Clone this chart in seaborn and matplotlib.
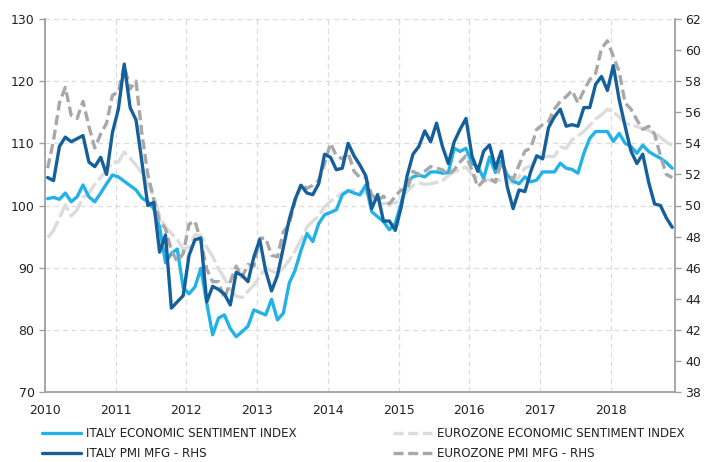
import numpy as np
import pandas as pd
import matplotlib
matplotlib.use("Agg")
import matplotlib.pyplot as plt
from matplotlib.lines import Line2D
import seaborn as sns

# ---- data (monthly, Jan 2010 - Nov 2018) ----
months = pd.date_range("2010-01-01", "2018-11-01", freq="MS")

italy_esi = [
    101.1, 101.3, 101.0, 102.0, 100.6, 101.4, 103.3, 101.4, 100.6, 102.0, 103.5, 104.9,
    104.6, 103.9, 103.2, 102.5, 101.2, 100.6, 99.5, 96.5, 90.8, 92.3, 93.0, 86.8,
    85.8, 86.9, 89.9, 84.3, 79.2, 81.9, 82.4, 80.2, 78.9, 79.7, 80.6, 83.2,
    82.8, 82.4, 84.9, 81.6, 82.7, 87.5, 89.6, 92.8, 95.5, 94.2, 97.1, 98.5,
    98.9, 99.3, 101.7, 102.4, 102.0, 101.7, 103.3, 99.0, 98.2, 97.4, 96.1, 97.1,
    100.4, 103.8, 104.6, 104.9, 104.6, 105.4, 105.4, 105.2, 105.3, 109.2, 108.7, 109.2,
    106.8, 106.2, 104.4, 107.8, 105.3, 107.1, 104.9, 103.9, 103.5, 104.6, 103.8, 104.1,
    105.4, 105.4, 105.4, 106.8, 106.0, 105.8, 105.2, 108.4, 110.8, 111.9, 111.9, 111.9,
    110.3, 111.6, 110.0, 109.5, 108.4, 109.7, 108.7, 108.1, 107.6, 106.9, 106.0,
]

italy_pmi = [
    51.8, 51.6, 53.8, 54.4, 54.1, 54.3, 54.5, 52.8, 52.5, 53.1, 52.0, 54.7,
    56.2, 59.1, 56.3, 55.5, 52.8, 50.0, 50.2, 47.0, 48.1, 43.4, 43.8, 44.2,
    46.8, 47.8, 47.9, 43.8, 44.8, 44.6, 44.3, 43.6, 45.7, 45.5, 45.1, 46.7,
    47.8, 45.8, 44.5, 45.5, 47.3, 49.1, 50.4, 51.3, 50.8, 50.7, 51.4, 53.3,
    53.1, 52.3, 52.4, 54.0, 53.2, 52.6, 51.9, 49.8, 50.7, 49.0, 49.0, 48.4,
    49.9, 51.9, 53.3, 53.8, 54.8, 54.1, 55.3, 53.8, 52.7, 54.1, 54.9, 55.6,
    53.2, 52.2, 53.5, 53.9, 52.4, 53.5, 51.2, 49.8, 51.0, 50.9, 52.2, 53.2,
    53.0, 55.0, 55.7, 56.2, 55.1, 55.2, 55.1, 56.3, 56.3, 57.8, 58.3, 57.4,
    59.0, 56.8, 55.1, 53.5, 52.7, 53.3, 51.5, 50.1, 50.0, 49.2, 48.6,
]

ez_esi = [
    94.8, 96.0, 98.0, 100.1, 98.3, 99.3, 101.3, 102.0, 103.4, 104.5, 105.7, 107.0,
    107.0, 108.6, 107.6, 106.5, 105.2, 103.5, 101.5, 98.3, 96.5, 95.5, 94.5, 93.0,
    93.3, 95.3, 95.2, 93.3, 91.8, 89.8, 88.3, 86.5, 85.4, 85.2, 86.2, 87.2,
    88.6, 90.0, 89.5, 89.0, 90.0, 91.2, 92.7, 94.5, 96.5, 97.5, 98.3, 99.8,
    100.7, 101.3, 102.0, 102.3, 102.5, 102.2, 102.1, 101.0, 100.5, 100.3, 100.4, 100.4,
    101.0, 102.3, 103.2, 103.6, 103.4, 103.5, 103.7, 104.0, 104.8, 105.4, 105.8, 106.2,
    105.0, 104.3, 104.1, 104.1, 104.2, 104.0, 104.0, 103.6, 104.6, 106.0, 106.4, 107.6,
    107.8, 107.9, 107.9, 109.4, 109.2, 110.6, 111.2, 111.9, 112.9, 113.9, 114.6, 115.5,
    115.0, 114.3, 113.2, 113.0, 112.7, 112.4, 112.1, 111.6, 111.0, 110.2, 109.7,
]

ez_pmi = [
    52.4, 54.2, 56.6, 57.6, 55.8, 55.6, 56.7, 55.1, 53.7, 54.6, 55.3, 57.1,
    57.3, 59.0, 57.5, 58.0, 54.6, 52.0, 50.4, 49.0, 48.5, 47.1, 46.4, 46.9,
    48.8, 49.0, 47.7, 45.9, 45.1, 45.1, 44.0, 45.1, 46.1, 45.4, 46.2, 46.1,
    47.9, 47.9, 46.8, 46.7, 48.3, 48.8, 50.3, 51.4, 51.1, 51.3, 51.6, 52.7,
    54.0, 53.2, 53.0, 53.4, 52.2, 51.8, 51.8, 50.7, 50.3, 50.6, 50.1, 50.6,
    51.0, 51.0, 52.2, 52.0, 52.2, 52.5, 52.4, 52.3, 52.0, 52.3, 52.8, 53.2,
    52.3, 51.2, 51.6, 51.7, 51.5, 52.8, 52.0, 51.7, 52.6, 53.5, 53.7, 54.9,
    55.2, 55.4, 56.2, 56.7, 57.0, 57.4, 56.6, 57.4, 58.1, 58.5, 60.1, 60.6,
    59.6, 58.6, 56.6, 56.2, 55.5, 54.9, 55.1, 54.6, 53.2, 52.0, 51.8,
]

labels = [
    "ITALY ECONOMIC SENTIMENT INDEX",
    "ITALY PMI MFG - RHS",
    "EUROZONE ECONOMIC SENTIMENT INDEX",
    "EUROZONE PMI MFG - RHS",
]
year_ticks = list(range(2010, 2019))
left_ticks = list(range(70, 131, 10))
right_ticks = list(range(38, 63, 2))

# ---- frame ----
t = months.year + (months.month - 1 + 0.45) / 12.0
df = pd.DataFrame({"t": t, "it_esi": italy_esi, "it_pmi": italy_pmi,
                   "ez_esi": ez_esi, "ez_pmi": ez_pmi})

sns.set_style("white")
plt.rcParams["font.family"] = ["DejaVu Sans"]

C_IT_ESI = "#23b2e8"
C_IT_PMI = "#15609a"
C_EZ_ESI = "#dcdcdc"
C_EZ_PMI = "#a8a8a8"
TXT = "#222222"
AXC = "#a0a0a0"

fig = plt.figure(figsize=(7.05, 4.62), dpi=100)
ax = fig.add_axes([45 / 705, 1 - 392 / 462, 630 / 705, 373 / 462])
ax2 = ax.twinx()

LW = 2.4
sns.lineplot(data=df, x="t", y="ez_esi", ax=ax, color=C_EZ_ESI, linewidth=LW,
             linestyle=(0, (6, 1.2)), legend=False)
sns.lineplot(data=df, x="t", y="it_esi", ax=ax, color=C_IT_ESI, linewidth=LW,
             legend=False)
sns.lineplot(data=df, x="t", y="ez_pmi", ax=ax2, color=C_EZ_PMI, linewidth=LW,
             linestyle=(0, (3, 1.4)), legend=False)
sns.lineplot(data=df, x="t", y="it_pmi", ax=ax2, color=C_IT_PMI, linewidth=LW,
             legend=False)

ax.set_xlim(2010, 2018.91)
ax.set_ylim(70, 130)
ax2.set_ylim(38, 62)
ax.set_xticks(year_ticks)
ax.set_xticklabels([str(y) for y in year_ticks])
ax.set_yticks(left_ticks)
ax2.set_yticks(right_ticks)
ax.set_xlabel("")
ax.set_ylabel("")
ax2.set_ylabel("")

ax.grid(True, color="#dcdcdc", linestyle=(0, (4, 3)), linewidth=0.9)
ax2.grid(False)
ax.set_axisbelow(True)

for a in (ax, ax2):
    for s in a.spines.values():
        s.set_color(AXC)
        s.set_linewidth(1.3)
    a.spines["top"].set_visible(False)
ax.spines["right"].set_visible(False)
ax2.spines["left"].set_visible(False)
ax2.spines["bottom"].set_visible(False)

ax.tick_params(axis="both", colors=AXC, labelcolor=TXT, labelsize=9, length=4, width=1)
ax2.tick_params(axis="y", colors=AXC, labelcolor=TXT, labelsize=9, length=4, width=1)
ax.tick_params(axis="x", pad=5)

h = [
    Line2D([], [], color=C_IT_ESI, lw=LW),
    Line2D([], [], color=C_IT_PMI, lw=LW),
    Line2D([], [], color=C_EZ_ESI, lw=LW, linestyle=(0, (3, 1.4))),
    Line2D([], [], color=C_EZ_PMI, lw=LW, linestyle=(0, (3, 1.4))),
]
common = dict(loc="upper left", frameon=False, fontsize=8.6, handlelength=3.3,
              handletextpad=0.4, labelspacing=0.62, borderpad=0, borderaxespad=0,
              labelcolor=TXT)
fig.legend(h[:2], labels[:2], bbox_to_anchor=(42 / 705, 1 - 427 / 462), **common)
fig.legend(h[2:], labels[2:], bbox_to_anchor=(393 / 705, 1 - 427 / 462), **common)

fig.savefig("out.png", dpi=100)
